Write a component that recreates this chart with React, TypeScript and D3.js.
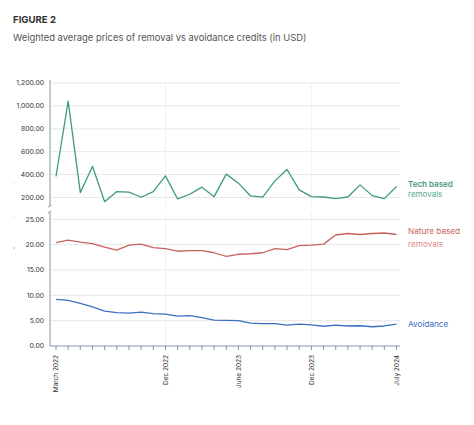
import React from "react";
import * as d3 from "d3";

const months = [
  "March 2022","Apr 2022","May 2022","Jun 2022","Jul 2022","Aug 2022","Sep 2022","Oct 2022","Nov 2022","Dec 2022",
  "Jan 2023","Feb 2023","Mar 2023","Apr 2023","May 2023","June 2023","Jul 2023","Aug 2023","Sep 2023","Oct 2023","Nov 2023","Dec 2023",
  "Jan 2024","Feb 2024","Mar 2024","Apr 2024","May 2024","Jun 2024","July 2024",
];
const labeledMonths = ["March 2022", "Dec 2022", "June 2023", "Dec 2023", "July 2024"];
const gridMonths = ["Dec 2022", "Dec 2023"];

const techBased = [383,1042,242,471,163,251,246,202,251,389,187,228,290,207,404,325,213,202,345,444,266,207,204,190,204,310,216,190,295];
const natureBased = [20.4,20.9,20.5,20.2,19.5,18.9,19.9,20.1,19.4,19.2,18.7,18.8,18.8,18.4,17.7,18.1,18.2,18.4,19.2,19.0,19.8,19.9,20.1,21.9,22.2,22.0,22.2,22.3,22.0];
const avoidance = [9.2,9.0,8.4,7.7,6.9,6.6,6.5,6.7,6.4,6.3,5.9,6.0,5.6,5.1,5.05,5.0,4.5,4.4,4.4,4.1,4.3,4.15,3.9,4.1,3.95,4.0,3.8,3.95,4.3];

const topTicks = [200, 400, 600, 800, 1000, 1200];
const bottomTicks = [0, 5, 10, 15, 20, 25];

const FONT = "Inter, 'Open Sans', sans-serif";
const TECH = "#3f9a7a";
const NATURE = "#c8625c";
const AVOID = "#3b70c2";
const AXIS = "#8796a8";
const GRID = "#e7e7e7";

export default function App() {
  const W = 474, H = 425;
  const x0 = 50, x1 = 400;
  const x = d3.scalePoint<string>().domain(months).range([56, 396.5]);
  const yTop = d3.scaleLinear().domain([100, 1200]).range([208.9, 83]);
  const yBot = d3.scaleLinear().domain([0, 25]).range([346, 219.3]);
  const fmt = d3.format(",.2f");

  const lineTop = d3.line<number>().x((_, i) => x(months[i])!).y((d) => yTop(d));
  const lineBot = d3.line<number>().x((_, i) => x(months[i])!).y((d) => yBot(d));

  return (
    <svg width={W} height={H} style={{ position: "absolute", left: 0, top: 0, background: "#fff" }}>
      <text x={13} y={23} fontFamily={FONT} fontSize={9.6} fontWeight={700} fill="#333">FIGURE 2</text>
      <text x={13} y={41} fontFamily={FONT} fontSize={9.4} fill="#555">Weighted average prices of removal vs avoidance credits (in USD)</text>

      {/* gridlines */}
      {topTicks.map((t) => (
        <line key={"gt" + t} x1={x0} x2={x1} y1={yTop(t)} y2={yTop(t)} stroke={GRID} strokeWidth={1} />
      ))}
      {bottomTicks.filter((t) => t > 0).map((t) => (
        <line key={"gb" + t} x1={x0} x2={x1} y1={yBot(t)} y2={yBot(t)} stroke={GRID} strokeWidth={1} />
      ))}
      {gridMonths.map((m) => (
        <g key={"gv" + m}>
          <line x1={x(m)} x2={x(m)} y1={83} y2={206} stroke="#f1f1f1" />
          <line x1={x(m)} x2={x(m)} y1={213} y2={346} stroke="#f1f1f1" />
        </g>
      ))}

      {/* y tick labels */}
      {topTicks.map((t) => (
        <text key={"lt" + t} x={44} y={yTop(t)} dy="0.35em" textAnchor="end" fontFamily={FONT} fontSize={6.8} fill="#333">{fmt(t)}</text>
      ))}
      {bottomTicks.map((t) => (
        <text key={"lb" + t} x={44} y={yBot(t)} dy="0.35em" textAnchor="end" fontFamily={FONT} fontSize={6.8} fill="#333">{fmt(t)}</text>
      ))}

      {/* tiny axis title marks */}
      <text x={13} y={185} fontFamily={FONT} fontSize={5} fill="#666">·</text>
      <text x={13} y={218} fontFamily={FONT} fontSize={5} fill="#666">·</text>
      <text x={13} y={250} fontFamily={FONT} fontSize={5} fill="#666">›</text>

      {/* left axes with break */}
      <line x1={x0} x2={x0} y1={80} y2={205.5} stroke={AXIS} strokeWidth={1} />
      <line x1={x0} x2={x0} y1={212} y2={346} stroke={AXIS} strokeWidth={1} />
      <line x1={x0 - 2} x2={x0 + 1.5} y1={207} y2={205} stroke={AXIS} strokeWidth={1} />
      <line x1={x0 - 2} x2={x0 + 1.5} y1={213} y2={211} stroke={AXIS} strokeWidth={1} />

      {/* bottom axis */}
      <line x1={x0} x2={x1} y1={346} y2={346} stroke={AXIS} strokeWidth={1} />
      {months.map((m) => (
        <line key={"tk" + m} x1={x(m)} x2={x(m)} y1={346} y2={350} stroke={AXIS} strokeWidth={1} />
      ))}
      {labeledMonths.map((m) => (
        <text key={"xl" + m} transform={`translate(${x(m)! + 2.3},355) rotate(-90)`} textAnchor="end" fontFamily={FONT} fontSize={6.5} fill="#333">{m}</text>
      ))}

      {/* lines */}
      <path d={lineTop(techBased)!} fill="none" stroke={TECH} strokeWidth={1.3} strokeLinejoin="round" />
      <path d={lineBot(natureBased)!} fill="none" stroke={NATURE} strokeWidth={1.3} strokeLinejoin="round" />
      <path d={lineBot(avoidance)!} fill="none" stroke={AVOID} strokeWidth={1.3} strokeLinejoin="round" />

      {/* labels */}
      <text x={408} y={186.5} fontFamily={FONT} fontSize={8} fontWeight={600} fill={TECH}>Tech based</text>
      <text x={408} y={196.5} fontFamily={FONT} fontSize={8} fill="#5aa98a">removals</text>
      <text x={408} y={234} fontFamily={FONT} fontSize={8.2} fill={NATURE}>Nature based</text>
      <text x={408} y={246.5} fontFamily={FONT} fontSize={8.2} fill="#d88a85">removals</text>
      <text x={408} y={327} fontFamily={FONT} fontSize={8.2} fill={AVOID}>Avoidance</text>
    </svg>
  );
}
